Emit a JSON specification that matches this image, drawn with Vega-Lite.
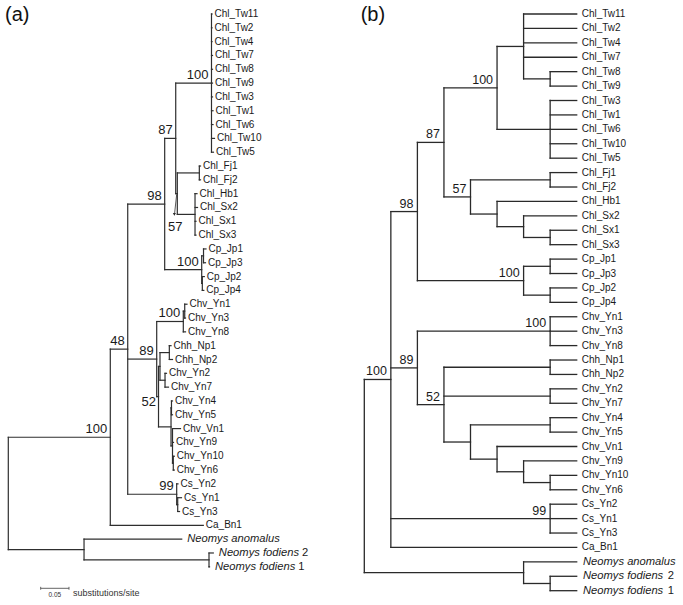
{
  "$schema": "https://vega.github.io/schema/vega-lite/v6.json",
  "padding": 0,
  "spacing": 0,
  "bounds": "flush",
  "config": {"view": {"stroke": null}},
  "datasets": {
    "leaves": [
      {"i": 1, "name": "Chl_Tw11", "num": "", "it": false, "ax": 0.3599, "bx": 8},
      {"i": 2, "name": "Chl_Tw2", "num": "", "it": false, "ax": 0.3599, "bx": 8},
      {"i": 3, "name": "Chl_Tw4", "num": "", "it": false, "ax": 0.3599, "bx": 8},
      {"i": 4, "name": "Chl_Tw7", "num": "", "it": false, "ax": 0.3608, "bx": 8},
      {"i": 5, "name": "Chl_Tw8", "num": "", "it": false, "ax": 0.3608, "bx": 8},
      {"i": 6, "name": "Chl_Tw9", "num": "", "it": false, "ax": 0.3608, "bx": 8},
      {"i": 7, "name": "Chl_Tw3", "num": "", "it": false, "ax": 0.3608, "bx": 8},
      {"i": 8, "name": "Chl_Tw1", "num": "", "it": false, "ax": 0.3617, "bx": 8},
      {"i": 9, "name": "Chl_Tw6", "num": "", "it": false, "ax": 0.3617, "bx": 8},
      {"i": 10, "name": "Chl_Tw10", "num": "", "it": false, "ax": 0.3643, "bx": 8},
      {"i": 11, "name": "Chl_Tw5", "num": "", "it": false, "ax": 0.3625, "bx": 8},
      {"i": 12, "name": "Chl_Fj1", "num": "", "it": false, "ax": 0.3396, "bx": 8},
      {"i": 13, "name": "Chl_Fj2", "num": "", "it": false, "ax": 0.3396, "bx": 8},
      {"i": 14, "name": "Chl_Hb1", "num": "", "it": false, "ax": 0.3334, "bx": 8},
      {"i": 15, "name": "Chl_Sx2", "num": "", "it": false, "ax": 0.3343, "bx": 8},
      {"i": 16, "name": "Chl_Sx1", "num": "", "it": false, "ax": 0.3316, "bx": 8},
      {"i": 17, "name": "Chl_Sx3", "num": "", "it": false, "ax": 0.3316, "bx": 8},
      {"i": 18, "name": "Cp_Jp1", "num": "", "it": false, "ax": 0.3493, "bx": 8},
      {"i": 19, "name": "Cp_Jp3", "num": "", "it": false, "ax": 0.3484, "bx": 8},
      {"i": 20, "name": "Cp_Jp2", "num": "", "it": false, "ax": 0.3463, "bx": 8},
      {"i": 21, "name": "Cp_Jp4", "num": "", "it": false, "ax": 0.3454, "bx": 8},
      {"i": 22, "name": "Chv_Yn1", "num": "", "it": false, "ax": 0.3157, "bx": 8},
      {"i": 23, "name": "Chv_Yn3", "num": "", "it": false, "ax": 0.3131, "bx": 8},
      {"i": 24, "name": "Chv_Yn8", "num": "", "it": false, "ax": 0.3131, "bx": 8},
      {"i": 25, "name": "Chh_Np1", "num": "", "it": false, "ax": 0.2875, "bx": 8},
      {"i": 26, "name": "Chh_Np2", "num": "", "it": false, "ax": 0.2901, "bx": 8},
      {"i": 27, "name": "Chv_Yn2", "num": "", "it": false, "ax": 0.2795, "bx": 8},
      {"i": 28, "name": "Chv_Yn7", "num": "", "it": false, "ax": 0.2830, "bx": 8},
      {"i": 29, "name": "Chv_Yn4", "num": "", "it": false, "ax": 0.2901, "bx": 8},
      {"i": 30, "name": "Chv_Yn5", "num": "", "it": false, "ax": 0.2901, "bx": 8},
      {"i": 31, "name": "Chv_Vn1", "num": "", "it": false, "ax": 0.3042, "bx": 8},
      {"i": 32, "name": "Chv_Yn9", "num": "", "it": false, "ax": 0.2919, "bx": 8},
      {"i": 33, "name": "Chv_Yn10", "num": "", "it": false, "ax": 0.2933, "bx": 8},
      {"i": 34, "name": "Chv_Yn6", "num": "", "it": false, "ax": 0.2933, "bx": 8},
      {"i": 35, "name": "Cs_Yn2", "num": "", "it": false, "ax": 0.2998, "bx": 8},
      {"i": 36, "name": "Cs_Yn1", "num": "", "it": false, "ax": 0.3060, "bx": 8},
      {"i": 37, "name": "Cs_Yn3", "num": "", "it": false, "ax": 0.3025, "bx": 8},
      {"i": 38, "name": "Ca_Bn1", "num": "", "it": false, "ax": 0.3445, "bx": 8},
      {"i": 39, "name": "Neomys anomalus", "num": "", "it": true, "ax": 0.3064, "bx": 8},
      {"i": 40, "name": "Neomys fodiens", "num": "2", "it": true, "ax": 0.3622, "bx": 8},
      {"i": 41, "name": "Neomys fodiens", "num": "1", "it": true, "ax": 0.3555, "bx": 8}
    ],
    "a_branches": [
      {"x": 0, "x2": 0, "y": 31.625, "y2": 39.75},
      {"x": 0, "x2": 0.1802, "y": 31.625, "y2": 31.625},
      {"x": 0, "x2": 0.1338, "y": 39.75, "y2": 39.75},
      {"x": 0.1338, "x2": 0.1338, "y": 39, "y2": 40.5},
      {"x": 0.1338, "x2": 0.3064, "y": 39, "y2": 39},
      {"x": 0.1338, "x2": 0.3546, "y": 40.5, "y2": 40.5},
      {"x": 0.3546, "x2": 0.3546, "y": 40, "y2": 41},
      {"x": 0.3546, "x2": 0.3622, "y": 40, "y2": 40},
      {"x": 0.3546, "x2": 0.3555, "y": 41, "y2": 41},
      {"x": 0.1802, "x2": 0.1802, "y": 25.25, "y2": 38},
      {"x": 0.1802, "x2": 0.2110, "y": 25.25, "y2": 25.25},
      {"x": 0.1802, "x2": 0.3445, "y": 38, "y2": 38},
      {"x": 0.2110, "x2": 0.2110, "y": 14.75, "y2": 35.75},
      {"x": 0.2110, "x2": 0.2763, "y": 14.75, "y2": 14.75},
      {"x": 0.2110, "x2": 0.2622, "y": 25.97, "y2": 25.97},
      {"x": 0.2110, "x2": 0.2975, "y": 35.75, "y2": 35.75},
      {"x": 0.2763, "x2": 0.2763, "y": 10, "y2": 19.5},
      {"x": 0.2763, "x2": 0.2958, "y": 10, "y2": 10},
      {"x": 0.2763, "x2": 0.3417, "y": 19.5, "y2": 19.5},
      {"x": 0.2958, "x2": 0.2958, "y": 6, "y2": 14},
      {"x": 0.2958, "x2": 0.3590, "y": 6, "y2": 6},
      {"x": 0.2958, "x2": 0.2986, "y": 14, "y2": 14},
      {"x": 0.3590, "x2": 0.3590, "y": 1, "y2": 11},
      {"x": 0.3590, "x2": 0.3599, "y": 1, "y2": 1},
      {"x": 0.3590, "x2": 0.3599, "y": 2, "y2": 2},
      {"x": 0.3590, "x2": 0.3599, "y": 3, "y2": 3},
      {"x": 0.3590, "x2": 0.3608, "y": 4, "y2": 4},
      {"x": 0.3590, "x2": 0.3608, "y": 5, "y2": 5},
      {"x": 0.3590, "x2": 0.3608, "y": 6, "y2": 6},
      {"x": 0.3590, "x2": 0.3608, "y": 7, "y2": 7},
      {"x": 0.3590, "x2": 0.3617, "y": 8, "y2": 8},
      {"x": 0.3590, "x2": 0.3617, "y": 9, "y2": 9},
      {"x": 0.3590, "x2": 0.3643, "y": 10, "y2": 10},
      {"x": 0.3590, "x2": 0.3625, "y": 11, "y2": 11},
      {"x": 0.2986, "x2": 0.2986, "y": 12.5, "y2": 15.5},
      {"x": 0.2986, "x2": 0.3375, "y": 12.5, "y2": 12.5},
      {"x": 0.2986, "x2": 0.3299, "y": 15.5, "y2": 15.5},
      {"x": 0.3375, "x2": 0.3375, "y": 12, "y2": 13},
      {"x": 0.3375, "x2": 0.3396, "y": 12, "y2": 12},
      {"x": 0.3375, "x2": 0.3396, "y": 13, "y2": 13},
      {"x": 0.3299, "x2": 0.3299, "y": 14, "y2": 17},
      {"x": 0.3299, "x2": 0.3334, "y": 14, "y2": 14},
      {"x": 0.3299, "x2": 0.3343, "y": 15, "y2": 15},
      {"x": 0.3299, "x2": 0.3316, "y": 16, "y2": 16},
      {"x": 0.3299, "x2": 0.3316, "y": 17, "y2": 17},
      {"x": 0.3417, "x2": 0.3417, "y": 18.5, "y2": 20.5},
      {"x": 0.3417, "x2": 0.3449, "y": 18.5, "y2": 18.5},
      {"x": 0.3417, "x2": 0.3428, "y": 20.5, "y2": 20.5},
      {"x": 0.3449, "x2": 0.3449, "y": 18, "y2": 19},
      {"x": 0.3449, "x2": 0.3493, "y": 18, "y2": 18},
      {"x": 0.3449, "x2": 0.3484, "y": 19, "y2": 19},
      {"x": 0.3428, "x2": 0.3428, "y": 20, "y2": 21},
      {"x": 0.3428, "x2": 0.3463, "y": 20, "y2": 20},
      {"x": 0.3428, "x2": 0.3454, "y": 21, "y2": 21},
      {"x": 0.2622, "x2": 0.2622, "y": 23.25, "y2": 28.6875},
      {"x": 0.2622, "x2": 0.3092, "y": 23.25, "y2": 23.25},
      {"x": 0.2622, "x2": 0.2654, "y": 28.6875, "y2": 28.6875},
      {"x": 0.3092, "x2": 0.3092, "y": 22.5, "y2": 24},
      {"x": 0.3092, "x2": 0.3117, "y": 22.5, "y2": 22.5},
      {"x": 0.3092, "x2": 0.3131, "y": 24, "y2": 24},
      {"x": 0.3117, "x2": 0.3117, "y": 22, "y2": 23},
      {"x": 0.3117, "x2": 0.3157, "y": 22, "y2": 22},
      {"x": 0.3117, "x2": 0.3131, "y": 23, "y2": 23},
      {"x": 0.2654, "x2": 0.2654, "y": 26.5, "y2": 30.875},
      {"x": 0.2654, "x2": 0.2680, "y": 26.5, "y2": 26.5},
      {"x": 0.2654, "x2": 0.2875, "y": 30.875, "y2": 30.875},
      {"x": 0.2680, "x2": 0.2680, "y": 25.5, "y2": 27.5},
      {"x": 0.2680, "x2": 0.2845, "y": 25.5, "y2": 25.5},
      {"x": 0.2680, "x2": 0.2769, "y": 27.5, "y2": 27.5},
      {"x": 0.2845, "x2": 0.2845, "y": 25, "y2": 26},
      {"x": 0.2845, "x2": 0.2875, "y": 25, "y2": 25},
      {"x": 0.2845, "x2": 0.2901, "y": 26, "y2": 26},
      {"x": 0.2769, "x2": 0.2769, "y": 27, "y2": 28},
      {"x": 0.2769, "x2": 0.2795, "y": 27, "y2": 27},
      {"x": 0.2769, "x2": 0.2830, "y": 28, "y2": 28},
      {"x": 0.2875, "x2": 0.2875, "y": 29.5, "y2": 32.25},
      {"x": 0.2875, "x2": 0.2883, "y": 29.5, "y2": 29.5},
      {"x": 0.2875, "x2": 0.2901, "y": 32.25, "y2": 32.25},
      {"x": 0.2883, "x2": 0.2883, "y": 29, "y2": 30},
      {"x": 0.2883, "x2": 0.2901, "y": 29, "y2": 29},
      {"x": 0.2883, "x2": 0.2901, "y": 30, "y2": 30},
      {"x": 0.2901, "x2": 0.2901, "y": 31, "y2": 33.5},
      {"x": 0.2901, "x2": 0.3042, "y": 31, "y2": 31},
      {"x": 0.2901, "x2": 0.2919, "y": 32, "y2": 32},
      {"x": 0.2901, "x2": 0.2915, "y": 33.5, "y2": 33.5},
      {"x": 0.2915, "x2": 0.2915, "y": 33, "y2": 34},
      {"x": 0.2915, "x2": 0.2933, "y": 33, "y2": 33},
      {"x": 0.2915, "x2": 0.2933, "y": 34, "y2": 34},
      {"x": 0.2975, "x2": 0.2975, "y": 35, "y2": 36.5},
      {"x": 0.2975, "x2": 0.2998, "y": 35, "y2": 35},
      {"x": 0.2975, "x2": 0.2993, "y": 36.5, "y2": 36.5},
      {"x": 0.2993, "x2": 0.2993, "y": 36, "y2": 37},
      {"x": 0.2993, "x2": 0.3060, "y": 36, "y2": 36},
      {"x": 0.2993, "x2": 0.3025, "y": 37, "y2": 37}
    ],
    "a_support": [
      {"label": "100", "x": 0.3590, "y": 6},
      {"label": "87", "x": 0.2958, "y": 10},
      {"label": "98", "x": 0.2763, "y": 14.75},
      {"label": "100", "x": 0.3417, "y": 19.5},
      {"label": "100", "x": 0.3092, "y": 23.25},
      {"label": "48", "x": 0.2110, "y": 25.25},
      {"label": "89", "x": 0.2622, "y": 25.97},
      {"label": "100", "x": 0.1802, "y": 31.625},
      {"label": "99", "x": 0.2975, "y": 35.75}
    ],
    "a_callouts": [
      {"label": "57", "x": 0.2951, "y": 16.68},
      {"label": "52", "x": 0.2482, "y": 29.39}
    ],
    "b_branches": [
      {"x": 0, "x2": 0, "y": 26.35, "y2": 39.75},
      {"x": 0, "x2": 1, "y": 26.35, "y2": 26.35},
      {"x": 0, "x2": 6, "y": 39.75, "y2": 39.75},
      {"x": 6, "x2": 6, "y": 39, "y2": 40.5},
      {"x": 6, "x2": 8, "y": 39, "y2": 39},
      {"x": 6, "x2": 7, "y": 40.5, "y2": 40.5},
      {"x": 7, "x2": 7, "y": 40, "y2": 41},
      {"x": 7, "x2": 8, "y": 40, "y2": 40},
      {"x": 7, "x2": 8, "y": 41, "y2": 41},
      {"x": 1, "x2": 1, "y": 14.703, "y2": 38},
      {"x": 1, "x2": 2, "y": 14.703, "y2": 14.703},
      {"x": 1, "x2": 2, "y": 25.547, "y2": 25.547},
      {"x": 1, "x2": 7, "y": 36, "y2": 36},
      {"x": 1, "x2": 8, "y": 38, "y2": 38},
      {"x": 2, "x2": 2, "y": 9.906, "y2": 19.5},
      {"x": 2, "x2": 3, "y": 9.906, "y2": 9.906},
      {"x": 2, "x2": 6, "y": 19.5, "y2": 19.5},
      {"x": 3, "x2": 3, "y": 6.125, "y2": 13.6875},
      {"x": 3, "x2": 5, "y": 6.125, "y2": 6.125},
      {"x": 3, "x2": 4, "y": 13.6875, "y2": 13.6875},
      {"x": 5, "x2": 5, "y": 3.25, "y2": 9},
      {"x": 5, "x2": 6, "y": 3.25, "y2": 3.25},
      {"x": 5, "x2": 7, "y": 9, "y2": 9},
      {"x": 6, "x2": 6, "y": 1, "y2": 5.5},
      {"x": 6, "x2": 8, "y": 1, "y2": 1},
      {"x": 6, "x2": 8, "y": 2, "y2": 2},
      {"x": 6, "x2": 8, "y": 3, "y2": 3},
      {"x": 6, "x2": 8, "y": 4, "y2": 4},
      {"x": 6, "x2": 7, "y": 5.5, "y2": 5.5},
      {"x": 7, "x2": 7, "y": 5, "y2": 6},
      {"x": 7, "x2": 8, "y": 5, "y2": 5},
      {"x": 7, "x2": 8, "y": 6, "y2": 6},
      {"x": 7, "x2": 7, "y": 7, "y2": 11},
      {"x": 7, "x2": 8, "y": 7, "y2": 7},
      {"x": 7, "x2": 8, "y": 8, "y2": 8},
      {"x": 7, "x2": 8, "y": 9, "y2": 9},
      {"x": 7, "x2": 8, "y": 10, "y2": 10},
      {"x": 7, "x2": 8, "y": 11, "y2": 11},
      {"x": 4, "x2": 4, "y": 12.5, "y2": 14.875},
      {"x": 4, "x2": 7, "y": 12.5, "y2": 12.5},
      {"x": 4, "x2": 5, "y": 14.875, "y2": 14.875},
      {"x": 7, "x2": 7, "y": 12, "y2": 13},
      {"x": 7, "x2": 8, "y": 12, "y2": 12},
      {"x": 7, "x2": 8, "y": 13, "y2": 13},
      {"x": 5, "x2": 5, "y": 14, "y2": 15.75},
      {"x": 5, "x2": 8, "y": 14, "y2": 14},
      {"x": 5, "x2": 6, "y": 15.75, "y2": 15.75},
      {"x": 6, "x2": 6, "y": 15, "y2": 16.5},
      {"x": 6, "x2": 8, "y": 15, "y2": 15},
      {"x": 6, "x2": 7, "y": 16.5, "y2": 16.5},
      {"x": 7, "x2": 7, "y": 16, "y2": 17},
      {"x": 7, "x2": 8, "y": 16, "y2": 16},
      {"x": 7, "x2": 8, "y": 17, "y2": 17},
      {"x": 6, "x2": 6, "y": 18.5, "y2": 20.5},
      {"x": 6, "x2": 7, "y": 18.5, "y2": 18.5},
      {"x": 6, "x2": 7, "y": 20.5, "y2": 20.5},
      {"x": 7, "x2": 7, "y": 18, "y2": 19},
      {"x": 7, "x2": 8, "y": 18, "y2": 18},
      {"x": 7, "x2": 8, "y": 19, "y2": 19},
      {"x": 7, "x2": 7, "y": 20, "y2": 21},
      {"x": 7, "x2": 8, "y": 20, "y2": 20},
      {"x": 7, "x2": 8, "y": 21, "y2": 21},
      {"x": 2, "x2": 2, "y": 23, "y2": 28.094},
      {"x": 2, "x2": 7, "y": 23, "y2": 23},
      {"x": 2, "x2": 3, "y": 28.094, "y2": 28.094},
      {"x": 7, "x2": 7, "y": 22, "y2": 24},
      {"x": 7, "x2": 8, "y": 22, "y2": 22},
      {"x": 7, "x2": 8, "y": 23, "y2": 23},
      {"x": 7, "x2": 8, "y": 24, "y2": 24},
      {"x": 3, "x2": 3, "y": 25.5, "y2": 30.6875},
      {"x": 3, "x2": 7, "y": 25.5, "y2": 25.5},
      {"x": 3, "x2": 7, "y": 27.5, "y2": 27.5},
      {"x": 3, "x2": 4, "y": 30.6875, "y2": 30.6875},
      {"x": 7, "x2": 7, "y": 25, "y2": 26},
      {"x": 7, "x2": 8, "y": 25, "y2": 25},
      {"x": 7, "x2": 8, "y": 26, "y2": 26},
      {"x": 7, "x2": 7, "y": 27, "y2": 28},
      {"x": 7, "x2": 8, "y": 27, "y2": 27},
      {"x": 7, "x2": 8, "y": 28, "y2": 28},
      {"x": 4, "x2": 4, "y": 29.5, "y2": 31.875},
      {"x": 4, "x2": 7, "y": 29.5, "y2": 29.5},
      {"x": 4, "x2": 5, "y": 31.875, "y2": 31.875},
      {"x": 7, "x2": 7, "y": 29, "y2": 30},
      {"x": 7, "x2": 8, "y": 29, "y2": 29},
      {"x": 7, "x2": 8, "y": 30, "y2": 30},
      {"x": 5, "x2": 5, "y": 31, "y2": 32.75},
      {"x": 5, "x2": 8, "y": 31, "y2": 31},
      {"x": 5, "x2": 6, "y": 32.75, "y2": 32.75},
      {"x": 6, "x2": 6, "y": 32, "y2": 33.5},
      {"x": 6, "x2": 8, "y": 32, "y2": 32},
      {"x": 6, "x2": 7, "y": 33.5, "y2": 33.5},
      {"x": 7, "x2": 7, "y": 33, "y2": 34},
      {"x": 7, "x2": 8, "y": 33, "y2": 33},
      {"x": 7, "x2": 8, "y": 34, "y2": 34},
      {"x": 7, "x2": 7, "y": 35, "y2": 37},
      {"x": 7, "x2": 8, "y": 35, "y2": 35},
      {"x": 7, "x2": 8, "y": 36, "y2": 36},
      {"x": 7, "x2": 8, "y": 37, "y2": 37}
    ],
    "b_support": [
      {"label": "100", "x": 5, "y": 6.125},
      {"label": "87", "x": 3, "y": 9.906},
      {"label": "57", "x": 4, "y": 13.6875},
      {"label": "98", "x": 2, "y": 14.703},
      {"label": "100", "x": 6, "y": 19.5},
      {"label": "100", "x": 7, "y": 23},
      {"label": "89", "x": 2, "y": 25.547},
      {"label": "52", "x": 3, "y": 28.094},
      {"label": "100", "x": 1, "y": 26.35},
      {"label": "99", "x": 7, "y": 36}
    ]
  },
  "hconcat": [
    {
      "width": 340,
      "height": 605,
      "title": {"text": "(a)", "anchor": "start", "orient": "top", "frame": "group", "offset": -41, "baseline": "alphabetic", "dx": 5, "fontSize": 20, "fontWeight": "normal", "font": "Liberation Sans", "color": "#111111"},
      "encoding": {
        "x": {"field": "x", "type": "quantitative", "axis": null, "scale": {"domain": [-0.014664, 0.586042], "nice": false, "zero": false}},
        "y": {"field": "y", "type": "quantitative", "axis": null, "scale": {"domain": [-0.013, 43.764], "reverse": true, "nice": false, "zero": false}}
      },
      "layer": [
        {
          "data": {"name": "a_branches"},
          "mark": {"type": "rule", "color": "#2e2e2e", "strokeWidth": 1.2, "strokeCap": "square"},
          "encoding": {"x2": {"field": "x2"}, "y2": {"field": "y2"}}
        },
        {
          "data": {"name": "leaves"},
          "transform": [{"filter": "!datum.it"}],
          "mark": {"type": "text", "align": "left", "baseline": "middle", "dx": 2.5, "font": "Liberation Sans", "fontSize": 10, "color": "#1a1a1a"},
          "encoding": {"x": {"field": "ax", "type": "quantitative"}, "y": {"field": "i", "type": "quantitative"}, "text": {"field": "name"}}
        },
        {
          "data": {"name": "leaves"},
          "transform": [{"filter": "datum.it"}],
          "mark": {"type": "text", "align": "left", "baseline": "middle", "dx": 5.5, "font": "Liberation Sans", "fontStyle": "italic", "fontSize": 11.2, "color": "#1a1a1a"},
          "encoding": {"x": {"field": "ax", "type": "quantitative"}, "y": {"field": "i", "type": "quantitative"}, "text": {"field": "name"}}
        },
        {
          "data": {"name": "leaves"},
          "transform": [{"filter": "datum.num != ''"}],
          "mark": {"type": "text", "align": "left", "baseline": "middle", "dx": 88.8, "font": "Liberation Sans", "fontSize": 11.2, "color": "#1a1a1a"},
          "encoding": {"x": {"field": "ax", "type": "quantitative"}, "y": {"field": "i", "type": "quantitative"}, "text": {"field": "num"}}
        },
        {
          "data": {"name": "a_support"},
          "mark": {"type": "text", "align": "right", "baseline": "alphabetic", "dx": -3, "dy": -4, "font": "Liberation Sans", "fontSize": 13, "color": "#1a1a1a"},
          "encoding": {"text": {"field": "label"}}
        },
        {
          "data": {"name": "a_callouts"},
          "mark": {"type": "text", "align": "center", "baseline": "alphabetic", "font": "Liberation Sans", "fontSize": 13, "color": "#1a1a1a"},
          "encoding": {"text": {"field": "label"}}
        },
        {
          "data": {"values": [{"x": 0.2975, "x2": 0.2935, "y": 14.05, "y2": 15.55}]},
          "mark": {"type": "rule", "color": "#2e2e2e", "strokeWidth": 0.8},
          "encoding": {"x2": {"field": "x2"}, "y2": {"field": "y2"}}
        },
        {
          "data": {"values": [{"x": 0.2934, "y": 15.5}]},
          "mark": {"type": "point", "shape": "triangle-down", "filled": true, "size": 10, "color": "#2e2e2e", "opacity": 1},
          "encoding": {}
        },
        {
          "data": {"values": [
            {"x": 0.0572, "x2": 0.1072, "y": 42.556, "y2": 42.556},
            {"x": 0.0572, "x2": 0.0572, "y": 42.45, "y2": 42.66},
            {"x": 0.1072, "x2": 0.1072, "y": 42.45, "y2": 42.66}
          ]},
          "mark": {"type": "rule", "color": "#555555", "strokeWidth": 0.9},
          "encoding": {"x2": {"field": "x2"}, "y2": {"field": "y2"}}
        },
        {
          "data": {"values": [{"x": 0.0822, "y": 42.556, "label": "0.05"}]},
          "mark": {"type": "text", "align": "center", "baseline": "top", "dy": 3.5, "font": "Liberation Sans", "fontSize": 6.5, "color": "#333333"},
          "encoding": {"text": {"field": "label"}}
        },
        {
          "data": {"values": [{"x": 0.1072, "y": 42.556, "label": "substitutions/site"}]},
          "mark": {"type": "text", "align": "left", "baseline": "middle", "dx": 4, "dy": 5, "font": "Liberation Sans", "fontSize": 9, "color": "#333333"},
          "encoding": {"text": {"field": "label"}}
        }
      ]
    },
    {
      "width": 343,
      "height": 605,
      "title": {"text": "(b)", "anchor": "start", "orient": "top", "frame": "group", "offset": -41, "baseline": "alphabetic", "dx": 20.7, "fontSize": 20, "fontWeight": "normal", "font": "Liberation Sans", "color": "#111111"},
      "encoding": {
        "x": {"field": "x", "type": "quantitative", "axis": null, "scale": {"domain": [-0.91525, 12.0038], "nice": false, "zero": false}},
        "y": {"field": "y", "type": "quantitative", "axis": null, "scale": {"domain": [0.02896, 41.992], "reverse": true, "nice": false, "zero": false}}
      },
      "layer": [
        {
          "data": {"name": "b_branches"},
          "mark": {"type": "rule", "color": "#2a2a2a", "strokeWidth": 1.3, "strokeCap": "square"},
          "encoding": {"x2": {"field": "x2"}, "y2": {"field": "y2"}}
        },
        {
          "data": {"name": "leaves"},
          "transform": [{"filter": "!datum.it"}],
          "mark": {"type": "text", "align": "left", "baseline": "middle", "dx": 5, "font": "Liberation Sans", "fontSize": 10, "color": "#1a1a1a"},
          "encoding": {"x": {"field": "bx", "type": "quantitative"}, "y": {"field": "i", "type": "quantitative"}, "text": {"field": "name"}}
        },
        {
          "data": {"name": "leaves"},
          "transform": [{"filter": "datum.it"}],
          "mark": {"type": "text", "align": "left", "baseline": "middle", "dx": 6.3, "font": "Liberation Sans", "fontStyle": "italic", "fontSize": 11.2, "color": "#1a1a1a"},
          "encoding": {"x": {"field": "bx", "type": "quantitative"}, "y": {"field": "i", "type": "quantitative"}, "text": {"field": "name"}}
        },
        {
          "data": {"name": "leaves"},
          "transform": [{"filter": "datum.num != ''"}],
          "mark": {"type": "text", "align": "left", "baseline": "middle", "dx": 91, "font": "Liberation Sans", "fontSize": 11.2, "color": "#1a1a1a"},
          "encoding": {"x": {"field": "bx", "type": "quantitative"}, "y": {"field": "i", "type": "quantitative"}, "text": {"field": "num"}}
        },
        {
          "data": {"name": "b_support"},
          "mark": {"type": "text", "align": "right", "baseline": "alphabetic", "dx": -4, "dy": -4, "font": "Liberation Sans", "fontSize": 12.5, "color": "#1a1a1a"},
          "encoding": {"text": {"field": "label"}}
        }
      ]
    }
  ]
}
